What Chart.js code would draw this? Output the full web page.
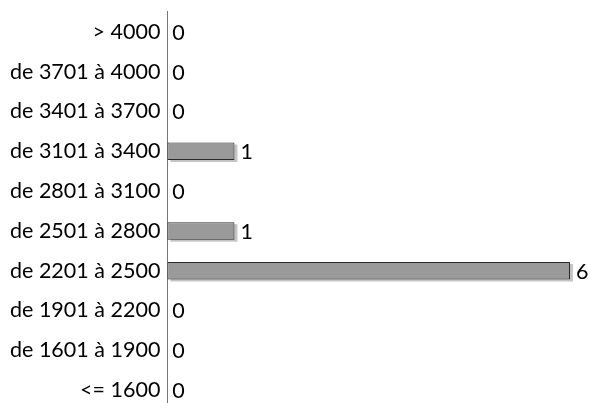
<!DOCTYPE html>
<html><head><meta charset="utf-8">
<script src="https://cdn.jsdelivr.net/npm/chart.js@4"></script>
<style>html,body{margin:0;padding:0;background:#fff;overflow:hidden;width:590px;height:403px}
canvas{display:block;position:relative;top:-8px}</style>
</head><body><canvas id="c" width="590" height="438" style="width:590px;height:438px"></canvas>
<script>
const categories = ['> 4000','de 3701 à 4000','de 3401 à 3700','de 3101 à 3400','de 2801 à 3100','de 2501 à 2800','de 2201 à 2500','de 1901 à 2200','de 1601 à 1900','<= 1600'];
const counts = [0,0,0,1,0,1,6,0,0,0];
const FONT = 'Lato';
const shadowPlugin = {
  id:'shadow',
  beforeDatasetsDraw(chart){
    const c=chart.ctx, meta=chart.getDatasetMeta(0);
    c.save();c.fillStyle='#c4c4c4';
    meta.data.forEach((b,i)=>{ if(!counts[i]) return;
      const p=b.getProps(['x','y','base','height'],true);
      c.fillRect(p.base+3, p.y-p.height/2+2, p.x-p.base, p.height);
    });
    c.restore();
  }
};
const labelPlugin = {
  id:'vals',
  afterDatasetsDraw(chart){
    const c=chart.ctx, meta=chart.getDatasetMeta(0);
    c.save();c.font='21.5px '+FONT;c.fillStyle='#000';c.textBaseline='middle';c.textAlign='left';
    meta.data.forEach((b,i)=>{c.fillText(String(counts[i]), b.x+(counts[i]?6:5), b.y+1);});
    c.restore();
  }
};
new Chart(document.getElementById('c'),{
  type:'bar',
  data:{labels:categories,datasets:[{data:counts,backgroundColor:'#9a9a9a',borderColor:'#2a2a2a',borderWidth:1,borderSkipped:false,barPercentage:1,categoryPercentage:0.44}]},
  options:{indexAxis:'y',responsive:false,devicePixelRatio:1,animation:false,
    layout:{padding:{top:3,right:20,bottom:1,left:3}},
    plugins:{legend:{display:false},tooltip:{enabled:false}},
    scales:{
      x:{display:false,min:0,max:6},
      y:{grid:{display:false,drawTicks:false},border:{display:true,color:'#777',width:1},
         ticks:{color:'#000',font:{family:FONT,size:21.5},padding:7}}
    }},
  plugins:[shadowPlugin,labelPlugin]
});
</script></body></html>
